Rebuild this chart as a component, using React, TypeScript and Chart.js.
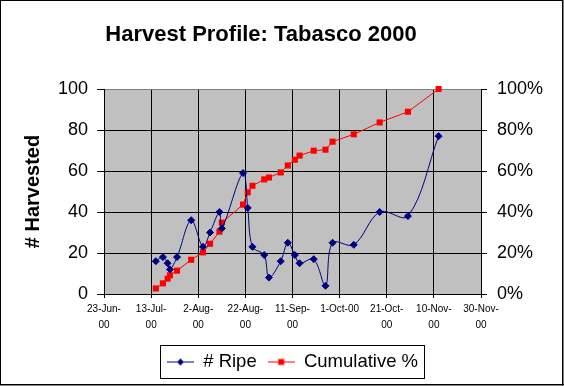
import React, { useEffect, useRef } from "react";
import { Chart, registerables } from "chart.js";

Chart.register(...registerables);

const TITLE = "Harvest Profile: Tabasco 2000";
const Y_TITLE = "# Harvested";
const SERIES_RIPE = "# Ripe";
const SERIES_CUM = "Cumulative %";

const START_DATE = "2000-06-23";
const END_DATE = "2000-11-30";

const HARVEST_DATES = [
  "2000-07-15", "2000-07-18", "2000-07-20", "2000-07-21", "2000-07-24",
  "2000-07-30", "2000-08-04", "2000-08-07", "2000-08-11", "2000-08-12",
  "2000-08-21", "2000-08-23", "2000-08-25", "2000-08-30", "2000-09-01",
  "2000-09-06", "2000-09-09", "2000-09-12", "2000-09-14", "2000-09-20",
  "2000-09-25", "2000-09-28", "2000-10-07", "2000-10-18", "2000-10-30",
  "2000-11-12",
];

const RIPE = [
  16, 18, 15, 12, 18, 36, 23, 30, 40, 32, 59, 42, 23, 19, 8, 16, 25, 19, 15,
  17, 4, 25, 24, 40, 38, 77,
];

const CUMULATIVE_PCT = [
  2.7, 5.2, 7.5, 9.1, 11.4, 16.7, 20.3, 24.5, 30.4, 34.8, 43.6, 49.6, 52.8,
  55.9, 56.8, 59.3, 62.7, 65.5, 67.5, 69.9, 70.4, 74.3, 77.9, 83.7, 88.9, 100,
];

const X_TICK_LABELS: (string | string[])[] = [
  ["23-Jun-", "00"],
  ["13-Jul-", "00"],
  ["2-Aug-", "00"],
  ["22-Aug-", "00"],
  ["11-Sep-", "00"],
  "1-Oct-00",
  ["21-Oct-", "00"],
  ["10-Nov-", "00"],
  ["30-Nov-", "00"],
];

const X_STEP_DAYS = 20;
const Y_LEFT_TICKS = [0, 20, 40, 60, 80, 100];
const Y_RIGHT_TICKS = ["0%", "20%", "40%", "60%", "80%", "100%"];

const FONT = "Arial, 'Liberation Sans', sans-serif";
const NAVY = "#000080";
const RED = "#FF0000";

const DAY_MS = 86400000;
function dayOf(d: string): number {
  return Math.round((Date.parse(d + "T00:00:00Z") - Date.parse(START_DATE + "T00:00:00Z")) / DAY_MS);
}

function makeSample(color: string, shape: "diamond" | "square"): HTMLCanvasElement {
  const c = document.createElement("canvas");
  c.width = 27;
  c.height = 11;
  const g = c.getContext("2d")!;
  g.strokeStyle = color;
  g.fillStyle = color;
  g.lineWidth = 1;
  g.beginPath();
  g.moveTo(0, 5.5);
  g.lineTo(27, 5.5);
  g.stroke();
  g.beginPath();
  if (shape === "diamond") {
    g.moveTo(13.5 - 3.5, 5.5);
    g.lineTo(13.5, 2);
    g.lineTo(13.5 + 3.5, 5.5);
    g.lineTo(13.5, 9);
    g.closePath();
  } else {
    g.rect(10.5, 2.5, 6, 6);
  }
  g.fill();
  return c;
}

const bgPlugin = {
  id: "bgPlugin",
  beforeDraw(chart: any) {
    const { ctx, chartArea, width, height } = chart;
    ctx.save();
    ctx.fillStyle = "#FFFFFF";
    ctx.fillRect(0, 0, width, height);
    ctx.fillStyle = "#C0C0C0";
    ctx.fillRect(chartArea.left, chartArea.top, chartArea.right - chartArea.left, chartArea.bottom - chartArea.top);
    ctx.restore();
  },
  afterDraw(chart: any) {
    const { ctx, width, height } = chart;
    ctx.save();
    ctx.strokeStyle = "#000";
    ctx.lineWidth = 1;
    const boxes = chart.legend && chart.legend.legendHitBoxes;
    if (boxes && boxes.length) {
      let l = Infinity, r = -Infinity, t = Infinity, b = -Infinity;
      for (const h of boxes) {
        l = Math.min(l, h.left);
        r = Math.max(r, h.left + h.width);
        t = Math.min(t, h.top);
        b = Math.max(b, h.top + h.height);
      }
      ctx.strokeRect(Math.round(l - 7) + 0.5, Math.round(t - 8) + 0.5, Math.round(r - l + 13), Math.round(b - t + 14));
    }
    ctx.strokeRect(0.5, 0.5, width - 1.5, height - 1.5);
    ctx.beginPath();
    ctx.moveTo(width - 1.5, 0);
    ctx.lineTo(width - 1.5, height);
    ctx.moveTo(0, height - 1.5);
    ctx.lineTo(width, height - 1.5);
    ctx.stroke();
    ctx.restore();
  },
};

export default function App() {
  const ref = useRef<HTMLCanvasElement | null>(null);

  useEffect(() => {
    document.body.style.margin = "0";
    const canvas = ref.current;
    if (!canvas) return;
    const samples = [makeSample(NAVY, "diamond"), makeSample(RED, "square")];
    const xs = HARVEST_DATES.map(dayOf);
    const chart = new Chart(canvas, {
      type: "line",
      data: {
        datasets: [
          {
            label: SERIES_RIPE,
            data: xs.map((x, i) => ({ x, y: RIPE[i] })),
            borderColor: NAVY,
            backgroundColor: NAVY,
            borderWidth: 1,
            pointStyle: "rectRot",
            pointRadius: 3.5,
            pointBorderWidth: 1,
            pointBackgroundColor: NAVY,
            pointBorderColor: NAVY,
            tension: 0.35,
            clip: 8,
            yAxisID: "y",
          },
          {
            label: SERIES_CUM,
            data: xs.map((x, i) => ({ x, y: CUMULATIVE_PCT[i] })),
            borderColor: RED,
            backgroundColor: RED,
            borderWidth: 1,
            pointStyle: "rect",
            pointRadius: 4.3,
            pointBorderWidth: 0,
            pointBackgroundColor: RED,
            tension: 0,
            clip: 8,
            yAxisID: "y1",
          },
        ],
      },
      options: {
        animation: false,
        responsive: false,
        devicePixelRatio: 1,
        layout: { padding: { left: -42, right: 0, top: 0, bottom: 4.75 } },
        plugins: {
          title: {
            display: true,
            text: TITLE,
            color: "#000",
            font: { family: FONT, size: 22, weight: "bold" },
            padding: { top: 22, bottom: 40.6 },
          },
          legend: {
            position: "bottom",
            fullSize: false,
            labels: {
              color: "#000",
              font: { family: FONT, size: 18.5 },
              usePointStyle: true,
              pointStyleWidth: 27,
              boxHeight: 11,
              padding: 11,
              generateLabels: (chart: any) => {
                const base = (Chart as any).defaults.plugins.legend.labels.generateLabels(chart);
                return base.map((it: any, i: number) => ({ ...it, pointStyle: samples[i] }));
              },
            },
          },
          tooltip: { enabled: false },
        },
        scales: {
          x: {
            type: "linear",
            min: dayOf(START_DATE),
            max: dayOf(END_DATE),
            afterFit: (s: any) => {
              s.height = 47.75;
            },
            ticks: {
              stepSize: X_STEP_DAYS,
              autoSkip: false,
              maxRotation: 0,
              color: "#000",
              padding: 3,
              font: { family: FONT, size: 10, lineHeight: 1.6 },
              callback: (_v: any, i: number) => X_TICK_LABELS[i],
            },
            grid: { color: "#000", lineWidth: 1, tickLength: 4, tickColor: "#000" },
            border: { color: "#000", width: 1 },
          },
          y: {
            position: "left",
            min: 0,
            max: 100,
            afterFit: (s: any) => {
              s.width = 146;
            },
            ticks: {
              stepSize: 20,
              color: "#000",
              padding: 9,
              font: { family: FONT, size: 18 },
              callback: (_v: any, i: number) => String(Y_LEFT_TICKS[i]),
            },
            grid: {
              color: (c: any) => (c.tick && c.tick.value === 100 ? "#808080" : "#000"),
              tickColor: "#000",
              lineWidth: 1,
              tickLength: 7,
            },
            border: { color: "#000", width: 1 },
            title: {
              display: true,
              text: Y_TITLE,
              color: "#000",
              font: { family: FONT, size: 20, weight: "bold" },
              padding: { top: 63, bottom: 0 },
            },
          },
          y1: {
            position: "right",
            min: 0,
            max: 100,
            afterFit: (s: any) => {
              s.width = 83;
            },
            ticks: {
              stepSize: 20,
              color: "#000",
              padding: 10,
              font: { family: FONT, size: 18 },
              callback: (_v: any, i: number) => Y_RIGHT_TICKS[i],
            },
            grid: { drawOnChartArea: false, color: "#000", tickLength: 6, lineWidth: 1 },
            border: { color: "#000", width: 1 },
          },
        },
      } as any,
      plugins: [bgPlugin],
    });
    return () => chart.destroy();
  }, []);

  return <canvas ref={ref} width={564} height={386} style={{ display: "block", width: 564, height: 386 }} />;
}
